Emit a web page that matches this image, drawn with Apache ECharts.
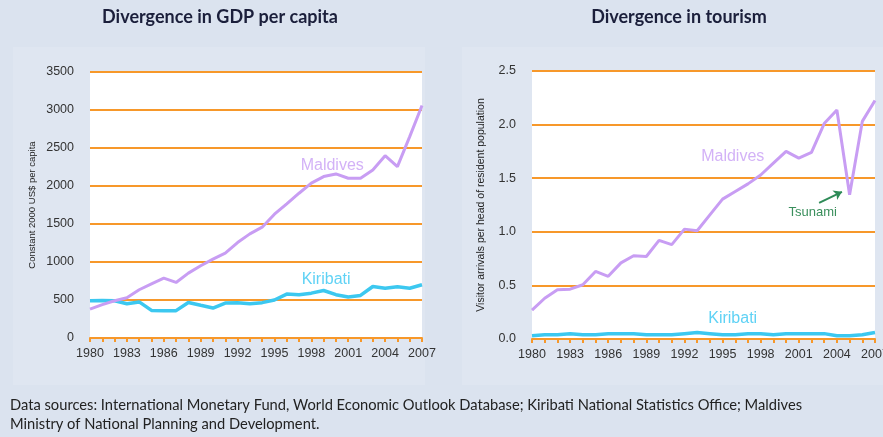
<!DOCTYPE html>
<html><head><meta charset="utf-8">
<script src="https://cdn.jsdelivr.net/npm/echarts@6/dist/echarts.min.js"></script>
<style>html,body{margin:0;padding:0;background:#dbe3ef;}#c{width:883px;height:437px;}</style>
</head><body><div id="c"></div>
<script>
const years = [1980,1981,1982,1983,1984,1985,1986,1987,1988,1989,1990,1991,1992,1993,1994,1995,1996,1997,1998,1999,2000,2001,2002,2003,2004,2005,2006,2007];
const gdpMaldives = [380,440,490,530,635,713,788,731,854,950,1038,1117,1256,1370,1458,1629,1765,1905,2037,2124,2159,2102,2102,2211,2399,2255,2650,3060];
const gdpKiribati = [490,495,490,450,475,363,360,360,468,430,394,460,465,450,465,500,578,570,590,625,570,540,560,678,655,675,655,700];
const tourMaldives = [0.27,0.38,0.46,0.465,0.506,0.63,0.585,0.71,0.776,0.77,0.92,0.88,1.025,1.01,1.158,1.305,1.376,1.447,1.53,1.64,1.75,1.687,1.74,2.01,2.137,1.345,2.03,2.225];
const tourKiribati = [0.03,0.04,0.04,0.05,0.04,0.04,0.05,0.05,0.05,0.04,0.04,0.04,0.05,0.06,0.05,0.04,0.04,0.05,0.05,0.04,0.05,0.05,0.05,0.05,0.03,0.03,0.04,0.06];
const gdpTicks = {min:0, max:3500, interval:500};
const tourTicks = {min:0, max:2.5, interval:0.5};
const titles = ['Divergence in GDP per capita','Divergence in tourism'];
const yNames = ['Constant 2000 US$ per capita','Visitor arrivals per head of resident population'];
const sourceNote = 'Data sources: International Monetary Fund, World Economic Outlook Database; Kiribati National Statistics Office; Maldives\nMinistry of National Planning and Development.';

const ORANGE = '#f7982a';
const LAV = '#c89df3';
const CYAN = '#3cc8f0';
const pairs = (vals) => years.map((y,i)=>[y, vals[i]]);

function xAxis(gi){
  return {type:'value', gridIndex:gi, min:1980, max:2007, interval:3,
    axisLine:{show:true, lineStyle:{color:ORANGE, width:2}},
    axisTick:{show:true, length:4, lineStyle:{color:ORANGE, width:2}},
    minorTick:{show:true, splitNumber:3, length:4, lineStyle:{color:ORANGE, width:2}},
    splitLine:{show:false},
    axisLabel:{color:'#333', fontSize:12.5, fontFamily:'Liberation Sans', margin:9, formatter:v=>String(v)}};
}
function yAxis(gi, t, fmt, name, nsize){
  return {type:'value', gridIndex:gi, min:t.min, max:t.max, interval:t.interval,
    axisLine:{show:false}, axisTick:{show:false},
    splitLine:{show:true, lineStyle:{color:ORANGE, width:2}},
    name:name, nameLocation:'middle', nameGap:gi===0?53:45, nameRotate:90,
    nameTextStyle:{color:'#222', fontSize:nsize, fontFamily:'Liberation Sans'},
    axisLabel:{color:'#333', fontSize:12.5, fontFamily:'Liberation Sans', margin:16, formatter:fmt}};
}
function labelPoint(text, coord, color, size){
  return {coord:coord, symbolSize:0, label:{show:true, position:'inside', formatter:text, color:color, fontSize:size, fontFamily:'Liberation Sans'}};
}

const chart = echarts.init(document.getElementById('c'), null, {renderer:'canvas'});
chart.setOption({
  backgroundColor:'#dbe3ef',
  animation:false,
  graphic:[
    {type:'rect', shape:{x:13,y:47,width:412,height:338}, style:{fill:'#dfe6f1'}, z:-10},
    {type:'rect', shape:{x:462,y:47,width:421,height:338}, style:{fill:'#dfe6f1'}, z:-10}
  ],
  title:[
    {text:titles[0], left:220, top:8, padding:0, textAlign:'center', textStyle:{fontFamily:'Lato', fontWeight:'bold', fontSize:18, color:'#1b1f3b'}},
    {text:titles[1], left:679, top:8, padding:0, textAlign:'center', textStyle:{fontFamily:'Lato', fontWeight:'bold', fontSize:18, color:'#1b1f3b'}},
    {text:sourceNote, left:10, top:396, padding:0, textStyle:{fontFamily:'Lato', fontWeight:'normal', fontSize:14.7, lineHeight:19, color:'#222'}}
  ],
  grid:[
    {left:90, right:461, top:72, bottom:99, show:true, backgroundColor:'#ffffff', borderWidth:0, outerBoundsMode:'none'},
    {left:532, right:8, top:71, bottom:98, show:true, backgroundColor:'#ffffff', borderWidth:0, outerBoundsMode:'none'}
  ],
  xAxis:[xAxis(0), xAxis(1)],
  yAxis:[yAxis(0, gdpTicks, v=>String(v), yNames[0], 9.5), yAxis(1, tourTicks, v=>v.toFixed(1), yNames[1], 10.5)],
  series:[
    {type:'line', xAxisIndex:0, yAxisIndex:0, data:pairs(gdpKiribati), showSymbol:false, lineStyle:{color:CYAN, width:3.5}, z:3,
      markPoint:{silent:true, data:[labelPoint('Kiribati',[1999.2,766],'#5fd2f5',16)]}},
    {type:'line', xAxisIndex:0, yAxisIndex:0, data:pairs(gdpMaldives), showSymbol:false, lineStyle:{color:LAV, width:3}, z:4,
      markPoint:{silent:true, data:[labelPoint('Maldives',[1999.7,2264],'#d3b2f7',16)]}},
    {type:'line', xAxisIndex:1, yAxisIndex:1, data:pairs(tourKiribati), showSymbol:false, lineStyle:{color:CYAN, width:3.5}, z:3,
      markPoint:{silent:true, data:[labelPoint('Kiribati',[1995.8,0.19],'#5fd2f5',16)]}},
    {type:'line', xAxisIndex:1, yAxisIndex:1, data:pairs(tourMaldives), showSymbol:false, lineStyle:{color:LAV, width:3}, z:4,
      markPoint:{silent:true, data:[labelPoint('Maldives',[1995.8,1.70],'#d3b2f7',16), labelPoint('Tsunami',[2002.1,1.18],'#3a8f5c',13)]},
      markLine:{silent:true, symbol:['none','arrow'], symbolSize:8, label:{show:false},
        lineStyle:{color:'#2e8b57', width:2, type:'solid'},
        data:[[{coord:[2002.6,1.27]},{coord:[2004.4,1.373]}]]}}
  ]
});
</script>
</body></html>
